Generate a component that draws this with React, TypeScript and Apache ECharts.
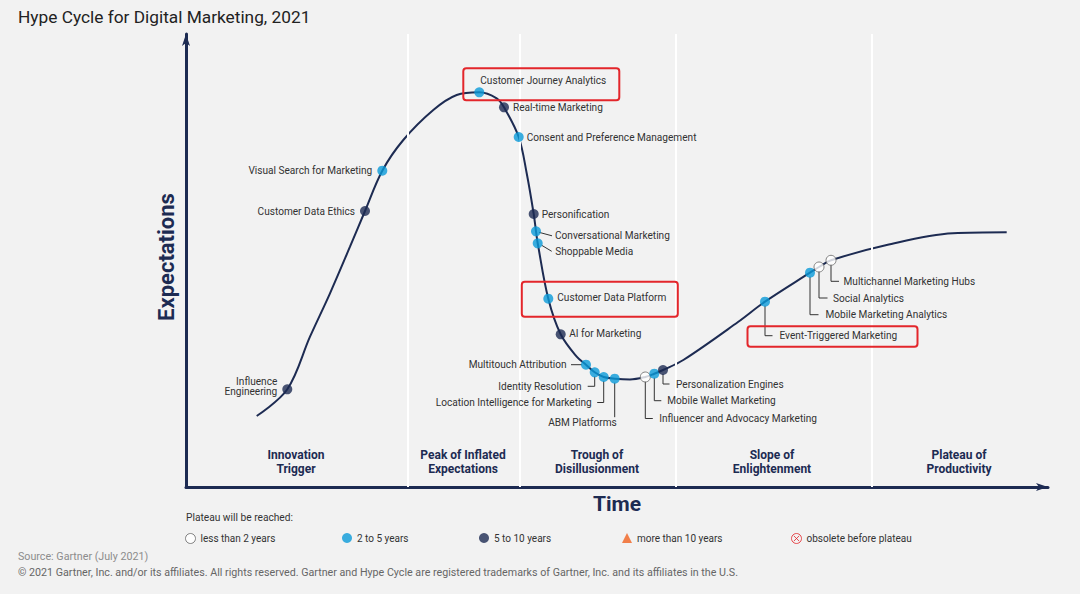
import React, { useEffect, useRef } from "react";
import * as echarts from "echarts";

const TITLE = "Hype Cycle for Digital Marketing, 2021";
const NAVY = "#1d2b52";
const BLUE = "#0a9ad8";
const RED = "#e3262b";
const BG = "#f2f2f2";
const FONT = "Roboto, 'Noto Sans', Arial, sans-serif";

// Hype curve (time units, expectation units)
const curveX = [70.7, 101.3, 124, 144, 164, 179, 196.3, 217.3, 247.3, 270.7, 293.3, 310.7, 318, 332.7, 340.7, 347.7, 350, 351.7, 362.3, 374.7, 390.7, 400, 408.7, 417.7, 428.7, 444, 459.3, 468.3, 477, 497.3, 552, 579, 624, 633, 645, 700.7, 767, 820.7];
const curveY = [71, 97.7, 150.3, 193.7, 240.3, 276, 316.3, 347, 377, 392, 394.7, 388.7, 379.7, 350, 313.7, 273, 255.7, 243.7, 188.3, 152.7, 130.3, 122.3, 114.7, 110, 108.3, 107.5, 110, 113.3, 117, 127, 165, 185.3, 214.3, 220, 226.7, 242, 253.7, 254.7];

// Technologies on the curve
const techNames = [
  "Influence\nEngineering",
  "Customer Data Ethics",
  "Visual Search for Marketing",
  "Customer Journey Analytics",
  "Real-time Marketing",
  "Consent and Preference Management",
  "Personification",
  "Conversational Marketing",
  "Shoppable Media",
  "Customer Data Platform",
  "AI for Marketing",
  "Multitouch Attribution",
  "Identity Resolution",
  "Location Intelligence for Marketing",
  "ABM Platforms",
  "Influencer and Advocacy Marketing",
  "Mobile Wallet Marketing",
  "Personalization Engines",
  "Event-Triggered Marketing",
  "Mobile Marketing Analytics",
  "Social Analytics",
  "Multichannel Marketing Hubs",
];
const techX = [101.3, 179, 196.3, 293.3, 318, 332.7, 347.7, 350, 351.7, 362.3, 374.7, 400, 408.7, 417.7, 428.7, 459.3, 468.3, 477, 579, 624, 633, 645];
const techY = [97.7, 276, 316.3, 394.7, 379.7, 350, 273, 255.7, 243.7, 188.3, 152.7, 122.3, 114.7, 110, 108.3, 110, 113.3, 117, 185.3, 214.3, 220, 226.7];
// 0 = less than 2 years, 1 = 2 to 5 years, 2 = 5 to 10 years
const techGroup = [2, 2, 1, 1, 2, 1, 2, 1, 1, 1, 2, 1, 1, 1, 1, 0, 1, 2, 1, 1, 0, 0];
const highlighted = ["Customer Journey Analytics", "Customer Data Platform", "Event-Triggered Marketing"];

const groupNames = ["less than 2 years", "2 to 5 years", "5 to 10 years", "more than 10 years", "obsolete before plateau"];

const phaseNames = ["Innovation\nTrigger", "Peak of Inflated\nExpectations", "Trough of\nDisillusionment", "Slope of\nEnlightenment", "Plateau of\nProductivity"];
const phaseCenters = [110, 277, 411, 586, 773];
const phaseBounds = [222, 334, 490, 686];

// label layout (pixel offsets from the dot) – styling only
type Lay = { dx: number; dy: number; align: "left" | "right"; leader?: number[][]; box?: number[] };
const layouts: Lay[] = [
  { dx: -10, dy: -3, align: "right" },
  { dx: -10, dy: 0, align: "right" },
  { dx: -10, dy: 0, align: "right" },
  { dx: 1, dy: -11.5, align: "left", box: [-16, -24, 156, 32] },
  { dx: 9, dy: 0, align: "left" },
  { dx: 8, dy: 0, align: "left" },
  { dx: 8, dy: 0, align: "left" },
  { dx: 19, dy: 4.5, align: "left", leader: [[3, 1], [16, 4.5]] },
  { dx: 17.5, dy: 8, align: "left", leader: [[4, 2], [14, 8]] },
  { dx: 9, dy: -1.5, align: "left", box: [-26.5, -17, 156, 35] },
  { dx: 8.5, dy: -1, align: "left" },
  { dx: -19.5, dy: 0, align: "right", leader: [[-15, 0], [-4, 0]] },
  { dx: -13, dy: 14, align: "right", leader: [[0, 4], [0, 14], [-7, 14]] },
  { dx: -12, dy: 25.5, align: "right", leader: [[0, 4], [0, 25.5], [-6.5, 25.5]] },
  { dx: 2, dy: 44, align: "right", leader: [[0, 4], [0, 38.5]] },
  { dx: 14, dy: 41.5, align: "left", leader: [[0, 4], [0, 41.5], [7.5, 41.5]] },
  { dx: 13, dy: 27, align: "left", leader: [[0, 4], [0, 27], [7, 27]] },
  { dx: 13, dy: 14, align: "left", leader: [[0, 4], [0, 14], [6.5, 14]] },
  { dx: 14.5, dy: 34, align: "left", leader: [[0, 4], [0, 34], [7.5, 34]], box: [-17.5, 24.5, 170, 20.5] },
  { dx: 15.5, dy: 42, align: "left", leader: [[0, 4], [0, 42], [8.5, 42]] },
  { dx: 14, dy: 31, align: "left", leader: [[0, 4], [0, 31], [8.5, 31]] },
  { dx: 12.5, dy: 21, align: "left", leader: [[0, 4], [0, 21], [8, 21]] },
];

const groupStyles = [
  { color: "#ffffff", borderColor: "#666666", borderWidth: 1 },
  { color: BLUE, borderColor: BLUE, borderWidth: 0 },
  { color: NAVY, borderColor: NAVY, borderWidth: 0 },
];

// legend item left edges (px) – layout only
const legendLefts = [185, 342, 479, 622, 791];
const legendIcons = [
  "circle",
  "circle",
  "circle",
  "triangle",
  "path://M5,0.5A4.5,4.5,0,1,1,4.99,0.5ZM2.6,2.6L7.4,7.4M7.4,2.6L2.6,7.4",
];
const legendItemStyles: any[] = [
  { color: "#ffffff", borderColor: "#666666", borderWidth: 1 },
  { color: BLUE, borderWidth: 0 },
  { color: NAVY, borderWidth: 0 },
  { color: "#f0621f", borderWidth: 0 },
  { color: "rgba(0,0,0,0)", borderColor: RED, borderWidth: 1 },
];

export default function App() {
  const ref = useRef<HTMLDivElement>(null);
  useEffect(() => {
    if (!ref.current) return;
    const chart = echarts.init(ref.current, null, { renderer: "svg" });

    const scatterSeries = [0, 1, 2].map((g) => ({
      name: groupNames[g],
      type: "scatter",
      symbol: "circle",
      symbolSize: 10,
      z: 10,
      itemStyle: groupStyles[g],
      data: techNames
        .map((n, i) => ({ i, n }))
        .filter((d) => techGroup[d.i] === g)
        .map((d) => ({ name: d.n, value: [techX[d.i], techY[d.i]] })),
    }));

    chart.setOption({
      animation: false,
      backgroundColor: BG,
      textStyle: { fontFamily: FONT },
      title: {
        text: TITLE,
        left: 13,
        top: 3,
        textStyle: { fontSize: 17.3, fontWeight: "normal", color: "#222", fontFamily: FONT },
      },
      grid: { left: 186, right: 32, top: 34, bottom: 107, containLabel: false },
      xAxis: {
        type: "value",
        min: 0,
        max: 862,
        name: "Time",
        nameLocation: "middle",
        nameGap: 6,
        nameTextStyle: { fontSize: 21, fontWeight: "bold", color: NAVY, fontFamily: FONT, verticalAlign: "top" },
        axisLine: { show: true, symbol: ["none", "arrow"], symbolSize: [6, 12], lineStyle: { color: NAVY, width: 3 } },
        axisTick: { show: false },
        axisLabel: { show: false },
        splitLine: { show: false },
      },
      yAxis: {
        type: "value",
        min: 0,
        max: 453,
        name: "Expectations",
        nameLocation: "middle",
        nameRotate: 90,
        nameGap: 9,
        nameTextStyle: { fontSize: 22, fontWeight: "bold", color: NAVY, fontFamily: FONT, padding: [0, 0, 0, 7] },
        axisLine: { show: true, symbol: ["none", "arrow"], symbolSize: [6, 12], lineStyle: { color: NAVY, width: 3 } },
        axisTick: { show: false },
        axisLabel: { show: false },
        splitLine: { show: false },
      },
      legend: groupNames.map((n, i) => ({
        left: legendLefts[i],
        top: 533,
        padding: 0,
        itemWidth: 10,
        itemHeight: 10,
        selectedMode: false,
        textStyle: { fontSize: 10, color: "#333", fontFamily: FONT },
        data: [{ name: n, icon: legendIcons[i], itemStyle: legendItemStyles[i] }],
      })),
      series: [
        {
          type: "line",
          name: "phases",
          data: [],
          z: 1,
          silent: true,
          markLine: {
            silent: true,
            symbol: ["none", "none"],
            label: { show: false },
            lineStyle: { color: "#ffffff", width: 2, type: "solid" },
            data: phaseBounds.map((b) => ({ xAxis: b })),
          },
        },
        {
          type: "line",
          name: "curve",
          data: curveX.map((x, i) => [x, curveY[i]]),
          smooth: 0.35,
          showSymbol: false,
          z: 3,
          silent: true,
          lineStyle: { color: NAVY, width: 2 },
        },
        ...scatterSeries,
        {
          name: groupNames[3],
          type: "scatter",
          symbol: "triangle",
          itemStyle: { color: "#f0621f" },
          data: [],
        },
        {
          name: groupNames[4],
          type: "scatter",
          itemStyle: { color: "rgba(0,0,0,0)", borderColor: RED, borderWidth: 1 },
          data: [],
        },
      ],
    });

    const toPx = (x: number, y: number) => chart.convertToPixel({ gridIndex: 0 }, [x, y]) as number[];
    const graphics: any[] = [];

    techNames.forEach((name, i) => {
      const [px, py] = toPx(techX[i], techY[i]);
      const L = layouts[i];
      if (L.leader) {
        graphics.push({
          type: "polyline",
          z: 2,
          silent: true,
          shape: { points: L.leader.map(([a, b]) => [px + a, py + b]) },
          style: { stroke: "#333", lineWidth: 1, fill: "none" },
        });
      }
      graphics.push({
        type: "text",
        z: 5,
        silent: true,
        x: px + L.dx,
        y: py + L.dy,
        style: {
          text: name,
          fill: "#333",
          fontSize: 10.1,
          lineHeight: 10,
          fontFamily: FONT,
          align: L.align,
          verticalAlign: "middle",
        },
      });
      if (L.box && highlighted.includes(name)) {
        graphics.push({
          type: "rect",
          z: 6,
          silent: true,
          shape: { x: px + L.box[0], y: py + L.box[1], width: L.box[2], height: L.box[3], r: 3 },
          style: { fill: "none", stroke: RED, lineWidth: 2 },
        });
      }
    });

    phaseNames.forEach((p, i) => {
      const [px, py] = toPx(phaseCenters[i], 25);
      graphics.push({
        type: "text",
        silent: true,
        x: px,
        y: py,
        style: {
          text: p,
          fill: NAVY,
          fontSize: 12,
          fontWeight: "bold",
          lineHeight: 14,
          fontFamily: FONT,
          align: "center",
          verticalAlign: "middle",
        },
      });
    });

    graphics.push(
      {
        type: "text",
        silent: true,
        x: 186,
        y: 517,
        style: { text: "Plateau will be reached:", fill: "#333", fontSize: 10.2, fontFamily: FONT, verticalAlign: "middle" },
      },
      {
        type: "text",
        silent: true,
        x: 18,
        y: 556,
        style: { text: "Source: Gartner (July 2021)", fill: "#8c8c8c", fontSize: 10.7, fontFamily: FONT, verticalAlign: "middle" },
      },
      {
        type: "text",
        silent: true,
        x: 18,
        y: 572,
        style: {
          text: "© 2021 Gartner, Inc. and/or its affiliates. All rights reserved. Gartner and Hype Cycle are registered trademarks of Gartner, Inc. and its affiliates in the U.S.",
          fill: "#666",
          fontSize: 10.7,
          fontFamily: FONT,
          verticalAlign: "middle",
        },
      }
    );

    chart.setOption({ graphic: graphics });
    return () => chart.dispose();
  }, []);

  return (
    <div
      ref={ref}
      style={{ position: "fixed", left: 0, top: 0, width: 1080, height: 594, background: BG }}
    />
  );
}
